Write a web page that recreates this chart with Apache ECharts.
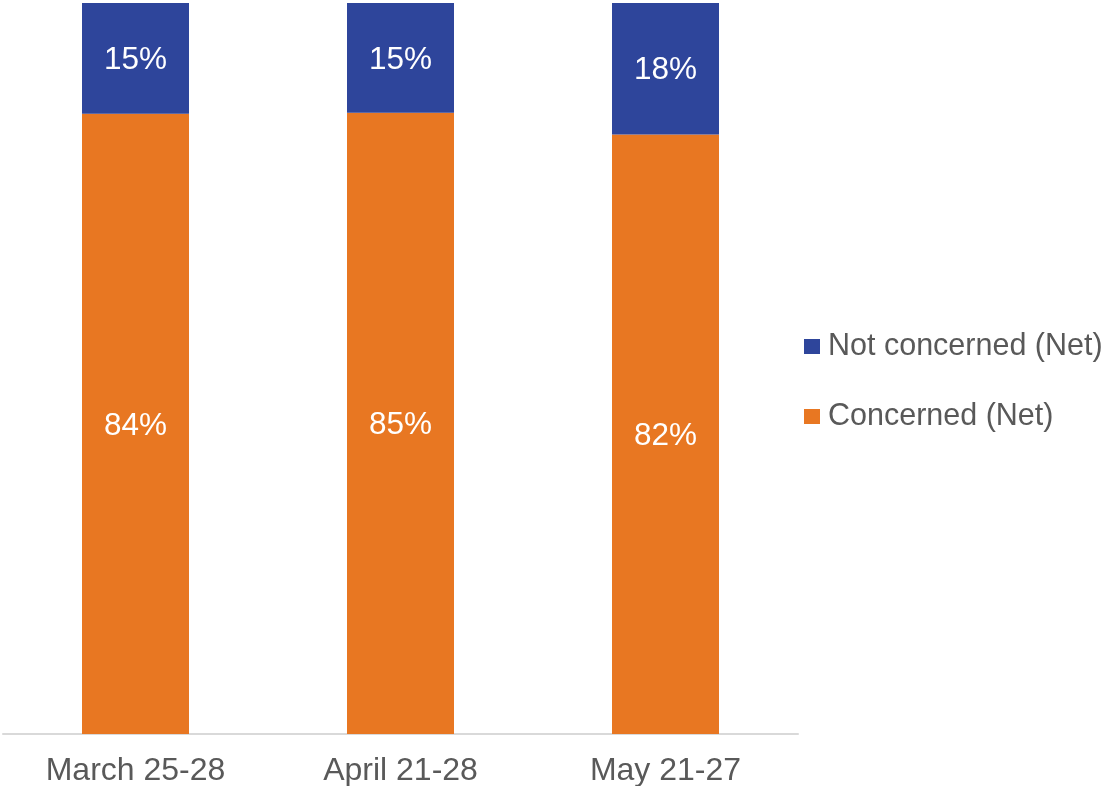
<!DOCTYPE html>
<html>
<head>
<meta charset="utf-8">
<script src="https://cdn.jsdelivr.net/npm/echarts@6/dist/echarts.min.js"></script>
<style>html,body{margin:0;padding:0;background:#fff}#c{width:1115px;height:786px}</style>
</head>
<body>
<div id="c"></div>
<script>
const categories = ['March 25-28', 'April 21-28', 'May 21-27'];
const concerned = [84, 85, 82];
const notConcerned = [15, 15, 18];
const seriesNames = ['Not concerned (Net)', 'Concerned (Net)'];

// 100% stacked: normalise each column to its total
const totals = categories.map((_, i) => concerned[i] + notConcerned[i]);
const pct = (arr) => arr.map((v, i) => ({ value: v / totals[i] * 100, raw: v }));

const chart = echarts.init(document.getElementById('c'), null, { renderer: 'canvas' });
const font = 'Liberation Sans, Arial, sans-serif';
const lbl = {
  show: true, position: 'inside', color: '#ffffff', fontSize: 31.5, fontFamily: font,
  offset: [0, 2],
  formatter: (p) => p.data.raw + '%'
};
chart.setOption({
  animation: false,
  grid: { left: 3, right: 317, top: 3, bottom: 52, containLabel: false, outerBoundsMode: 'none' },
  legend: {
    orient: 'vertical', left: 804, top: 331, padding: 0,
    itemWidth: 16, itemHeight: 15, itemGap: 39, icon: 'rect',
    data: seriesNames,
    textStyle: { fontSize: 30.5, color: '#595959', fontFamily: font, lineHeight: 30, padding: [0, 0, 0, 3] }
  },
  xAxis: {
    type: 'category', data: categories,
    axisLine: { lineStyle: { color: '#D9D9D9', width: 2 } },
    axisTick: { show: false },
    axisLabel: { fontSize: 32, color: '#595959', fontFamily: font, margin: 21 }
  },
  yAxis: { type: 'value', min: 0, max: 100, show: false, splitLine: { show: false } },
  series: [
    { name: 'Concerned (Net)', type: 'bar', stack: 't', barWidth: 107,
      itemStyle: { color: '#E87722' }, label: lbl, data: pct(concerned) },
    { name: 'Not concerned (Net)', type: 'bar', stack: 't', barWidth: 107,
      itemStyle: { color: '#2E459B' }, label: lbl, data: pct(notConcerned) }
  ]
});
</script>
</body>
</html>
